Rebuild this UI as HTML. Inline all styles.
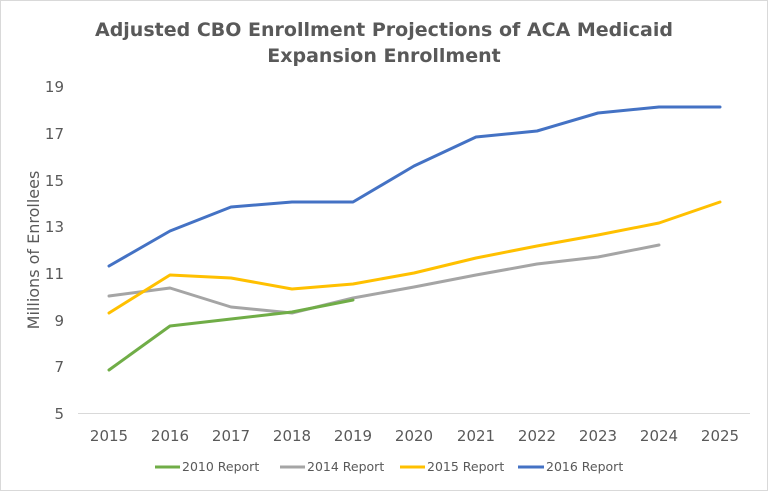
<!DOCTYPE html>
<html><head><style>
html,body{margin:0;padding:0;background:#fff;}
svg{display:block;}
text{font-family:"DejaVu Sans","Liberation Sans",sans-serif;fill:#595959;}
</style></head><body>
<svg width="768" height="491" viewBox="0 0 768 491">
<rect x="0.5" y="0.5" width="767" height="490" fill="#fff" stroke="#d9d9d9"/>
<text x="384" y="36" text-anchor="middle" font-size="19" font-weight="bold">Adjusted CBO Enrollment Projections of ACA Medicaid</text>
<text x="384" y="62" text-anchor="middle" font-size="19" font-weight="bold">Expansion Enrollment</text>
<g font-size="15" text-anchor="end">
<text x="64" y="92">19</text><text x="64" y="139">17</text><text x="64" y="186">15</text>
<text x="64" y="232">13</text><text x="64" y="279">11</text><text x="64" y="326">9</text>
<text x="64" y="372">7</text><text x="64" y="419">5</text>
</g>
<text transform="translate(39,250) rotate(-90)" text-anchor="middle" font-size="16">Millions of Enrollees</text>
<line x1="78" y1="413.5" x2="750" y2="413.5" stroke="#d9d9d9" stroke-width="1"/>
<g font-size="15" text-anchor="middle">
<text x="109" y="441">2015</text><text x="170" y="441">2016</text><text x="231" y="441">2017</text>
<text x="292" y="441">2018</text><text x="353" y="441">2019</text><text x="414" y="441">2020</text>
<text x="476" y="441">2021</text><text x="537" y="441">2022</text><text x="598" y="441">2023</text>
<text x="659" y="441">2024</text><text x="720" y="441">2025</text>
</g>
<g fill="none" stroke-width="3" stroke-linejoin="round" stroke-linecap="round">
<polyline stroke="#a5a5a5" points="109,296 170,288 231,307 292,313 353,298 414,287 476,275 537,264 598,257 659,245"/>
<polyline stroke="#70ad47" points="109,370 170,326 231,319 292,312 353,300"/>
<polyline stroke="#ffc000" points="109,313 170,275 231,278 292,289 353,284 414,273 476,258 537,246 598,235 659,223 720,202"/>
<polyline stroke="#4472c4" points="109,266 170,231 231,207 292,202 353,202 414,166 476,137 537,131 598,113 659,107 720,107"/>
</g>
<g font-size="12.5">
<line x1="155" y1="467" x2="180" y2="467" stroke="#70ad47" stroke-width="3"/><text x="182" y="471">2010 Report</text>
<line x1="280" y1="467" x2="305" y2="467" stroke="#a5a5a5" stroke-width="3"/><text x="307" y="471">2014 Report</text>
<line x1="400" y1="467" x2="425" y2="467" stroke="#ffc000" stroke-width="3"/><text x="427" y="471">2015 Report</text>
<line x1="518" y1="467" x2="544" y2="467" stroke="#4472c4" stroke-width="3"/><text x="546" y="471">2016 Report</text>
</g>
</svg>
</body></html>
